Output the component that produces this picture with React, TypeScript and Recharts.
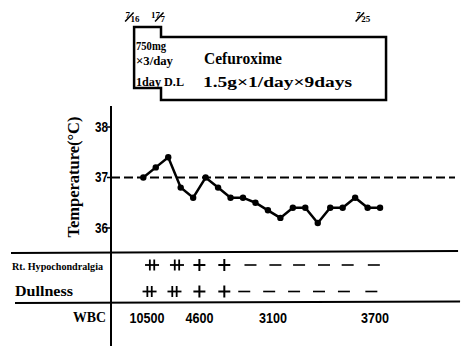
import React from 'react';
import { ComposedChart, Line, Scatter, XAxis, YAxis, ReferenceLine, Customized } from 'recharts';

// x = day of July; temperature read twice daily from 7/16 to 7/25
const readingDays = [16.25, 16.75, 17.25, 17.75, 18.25, 18.75, 19.25, 19.75, 20.25, 20.75, 21.25, 21.75, 22.25, 22.75, 23.25, 23.75, 24.25, 24.75, 25.25, 25.75];
const temperatures = [37.0, 37.2, 37.4, 36.8, 36.6, 37.0, 36.8, 36.6, 36.6, 36.5, 36.35, 36.2, 36.4, 36.4, 36.1, 36.4, 36.4, 36.6, 36.4, 36.4];
const tempTicks = [36, 37, 38];
const normalTemp = 37;

const hypoDays = [16.6, 17.6, 18.5, 19.5, 20.55, 21.55, 22.5, 23.5, 24.45, 25.5];
const hypoGrades = ['++', '++', '+', '+', '-', '-', '-', '-', '-', '-'];
const dullDays = [16.5, 17.5, 18.5, 19.5, 20.3, 21.3, 22.3, 23.3, 24.3, 25.4];
const dullGrades = ['++', '++', '+', '+', '-', '-', '-', '-', '-', '-'];

const wbcDays = [16.4, 18.5, 21.45, 25.55];
const wbcCounts = ['10500', '4600', '3100', '3700'];

// Cefuroxime regimen: loading dose start, switch to maintenance, end
const regimenDays = [15.88, 16.96, 25.99];
const dateDays = [15.72, 16.92, 24.97];
const dateTop = ['7', '17', '7'];
const dateBottom = ['16', '7', '25'];

// layout rows (hidden axis, 10px units)
const ROW = {
  date: 1.75, boxTopLoad: 2.7, boxTop: 3.7, boxBottomLoad: 8.8, boxBottom: 10.0,
  axisTop: 10.6, line1: 25.3, hypo: 26.5, dull: 29.15, line2: 30.3, wbc: 31.8, bottom: 34.6,
};
const X_DOMAIN: [number, number] = [14.953, 28.757];

const serif = '"Liberation Serif", "DejaVu Serif", serif';
const sans = '"Liberation Sans", Arial, sans-serif';

const tempData = readingDays.map((d, i) => ({ day: d, temp: temperatures[i] }));
const hypoData = hypoDays.map((d, i) => ({ day: d, y: ROW.hypo, g: hypoGrades[i] }));
const dullData = dullDays.map((d, i) => ({ day: d, y: ROW.dull, g: dullGrades[i] }));
const wbcData = wbcDays.map((d, i) => ({ day: d, y: ROW.wbc, v: wbcCounts[i] }));
const dateData = dateDays.map((d, i) => ({ day: d, y: ROW.date, t: dateTop[i], b: dateBottom[i] }));
const [r0, r1, r2] = regimenDays;
const boxData = [
  { day: r0, y: ROW.boxTopLoad }, { day: r1, y: ROW.boxTopLoad }, { day: r1, y: ROW.boxTop },
  { day: r2, y: ROW.boxTop }, { day: r2, y: ROW.boxBottom }, { day: r1, y: ROW.boxBottom },
  { day: r1, y: ROW.boxBottomLoad }, { day: r0, y: ROW.boxBottomLoad }, { day: r0, y: ROW.boxTopLoad },
];

const GradeShape = (props: any) => {
  const { cx, cy, payload } = props;
  const g = payload.g;
  if (g === '++') {
    return (
      <g stroke="#000" strokeWidth={1.8}>
        <line x1={cx - 7} y1={cy} x2={cx + 7} y2={cy} />
        <line x1={cx - 2.2} y1={cy - 5.5} x2={cx - 2.2} y2={cy + 5.5} />
        <line x1={cx + 2.2} y1={cy - 5.5} x2={cx + 2.2} y2={cy + 5.5} />
      </g>
    );
  }
  if (g === '+') {
    return (
      <g stroke="#000" strokeWidth={2}>
        <line x1={cx - 6} y1={cy} x2={cx + 6} y2={cy} />
        <line x1={cx} y1={cy - 6} x2={cx} y2={cy + 6} />
      </g>
    );
  }
  return <line x1={cx - 6} y1={cy} x2={cx + 6} y2={cy} stroke="#000" strokeWidth={1.6} />;
};

const WbcShape = (props: any) => {
  const { cx, cy, payload } = props;
  const len = payload.v.length * 7;
  return (
    <text x={cx - len / 2} y={cy + 4.5} fontFamily={sans} fontWeight="bold" fontSize={14}
      textLength={len} lengthAdjust="spacingAndGlyphs" fill="#000">{payload.v}</text>
  );
};

const DateShape = (props: any) => {
  const { cx, cy, payload } = props;
  return (
    <g fill="#000" fontFamily={serif} fontWeight="bold" fontSize={9}>
      <text x={cx} y={cy + 0.5} textAnchor="end">{payload.t}</text>
      <line x1={cx - 5} y1={cy + 4} x2={cx + 3.5} y2={cy - 5} stroke="#000" strokeWidth={1.5} />
      <text x={cx + 0.5} y={cy + 4.5}>{payload.b}</text>
    </g>
  );
};

const TempTick = (props: any) => {
  const { x, y, payload } = props;
  return (
    <text x={x + 3} y={y + 5} textAnchor="end" fontFamily={sans} fontWeight="bold" fontSize={14}
      textLength={13} lengthAdjust="spacingAndGlyphs" fill="#000">{payload.value}</text>
  );
};

const Annotations = () => (
  <g fill="#000" fontFamily={serif} fontWeight="bold">
    <text x={136} y={50} fontSize={12} textLength={30} lengthAdjust="spacingAndGlyphs">750mg</text>
    <text x={136} y={64.5} fontSize={12} textLength={37} lengthAdjust="spacingAndGlyphs">×3/day</text>
    <text x={136} y={86} fontSize={12.5} textLength={48} lengthAdjust="spacingAndGlyphs">1day D.L</text>
    <text x={204} y={64} fontSize={16} textLength={78} lengthAdjust="spacingAndGlyphs">Cefuroxime</text>
    <text x={203} y={86.5} fontSize={15} textLength={149} lengthAdjust="spacingAndGlyphs">1.5g×1/day×9days</text>
    <text x={73.5} y={177} fontSize={16} textAnchor="middle" dominantBaseline="central"
      transform="rotate(-90, 73.5, 177)" textLength={121} lengthAdjust="spacingAndGlyphs">Temperature(°C)</text>
    <text x={12} y={270} fontSize={11} textLength={91} lengthAdjust="spacingAndGlyphs">Rt. Hypochondralgia</text>
    <text x={15} y={296} fontSize={14} textLength={58} lengthAdjust="spacingAndGlyphs">Dullness</text>
    <text x={73} y={322} fontSize={14} textLength={33} lengthAdjust="spacingAndGlyphs">WBC</text>
  </g>
);

export default function App() {
  return (
    <div style={{ position: 'absolute', left: 0, top: 0, width: 466, height: 346, background: '#fff' }}>
      <ComposedChart width={466} height={346} margin={{ top: 0, right: 11, bottom: 0, left: 0 }}>
        <XAxis type="number" dataKey="day" domain={X_DOMAIN} hide allowDataOverflow />
        <YAxis yAxisId="rows" type="number" dataKey="y" hide width={0} domain={[0, ROW.bottom]} reversed allowDataOverflow />
        <YAxis yAxisId="temp" type="number" width={111} domain={[33.663, 40.515]} ticks={tempTicks}
          interval={0} axisLine={false} tickSize={4} tickLine={{ stroke: '#000', strokeWidth: 1.5 }}
          tick={<TempTick />} allowDataOverflow />
        <ReferenceLine yAxisId="temp" y={normalTemp} stroke="#000" strokeWidth={2} strokeDasharray="9 4" />
        <ReferenceLine yAxisId="rows" ifOverflow="visible" stroke="#000" strokeWidth={2}
          segment={[{ x: X_DOMAIN[0], y: ROW.axisTop }, { x: X_DOMAIN[0], y: ROW.bottom }]} />
        <ReferenceLine yAxisId="rows" ifOverflow="visible" stroke="#000" strokeWidth={2}
          segment={[{ x: 10.94, y: ROW.line1 }, { x: 28.88, y: ROW.line1 - 0.2 }]} />
        <ReferenceLine yAxisId="rows" ifOverflow="visible" stroke="#000" strokeWidth={2}
          segment={[{ x: 11.1, y: ROW.line2 }, { x: 28.96, y: ROW.line2 - 0.15 }]} />
        <Line yAxisId="rows" data={boxData} dataKey="y" stroke="#000" strokeWidth={2.5} dot={false}
          strokeLinecap="square" strokeLinejoin="miter" isAnimationActive={false} />
        <Line yAxisId="temp" data={tempData} dataKey="temp" stroke="#000" strokeWidth={2.5}
          dot={{ r: 3.2, fill: '#000', stroke: '#000', strokeWidth: 0 }} isAnimationActive={false} />
        <Scatter yAxisId="rows" data={hypoData} dataKey="y" shape={GradeShape} isAnimationActive={false} />
        <Scatter yAxisId="rows" data={dullData} dataKey="y" shape={GradeShape} isAnimationActive={false} />
        <Scatter yAxisId="rows" data={wbcData} dataKey="y" shape={WbcShape} isAnimationActive={false} />
        <Scatter yAxisId="rows" data={dateData} dataKey="y" shape={DateShape} isAnimationActive={false} />
        <Customized component={<Annotations />} />
      </ComposedChart>
    </div>
  );
}
